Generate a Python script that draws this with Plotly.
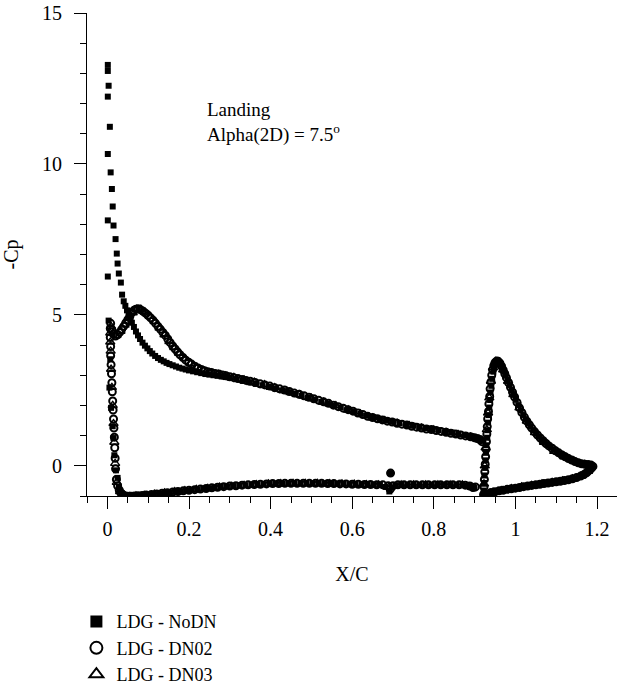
import plotly.graph_objects as go

# ---------------- data ----------------
# LDG - NoDN (filled squares)
nodn_main_upper_x = [0.025,0.021,0.017,0.015,0.013,0.009,0.005,0.007,0.003,0.001,
    0.001,0.001,0.001,0.001,0.001,0.003,0.006,0.008,0.011,0.013,
    0.015,0.020,0.023,0.025,0.028,0.033,0.036,0.040,0.044,0.048,
    0.052,0.056,0.060,0.065,0.070,0.075,0.080,0.086,0.092,0.098,
    0.104,0.110,0.117,0.124,0.131,0.138,0.145,0.152,0.160,0.168,
    0.176,0.184,0.192,0.200,0.210,0.220,0.230,0.240,0.250,0.260,
    0.270,0.280,0.290,0.300,0.316,0.332,0.348,0.364,0.380,0.396,
    0.412,0.428,0.444,0.460,0.476,0.492,0.508,0.524,0.540,0.556,
    0.572,0.588,0.604,0.620,0.636,0.652,0.668,0.684,0.700,0.716,
    0.732,0.748,0.764,0.780,0.796,0.812,0.828,0.844,0.860,0.876,
    0.892,0.904,0.912,0.918]
nodn_main_upper_cp = [-0.40,-0.15,0.35,0.92,1.31,1.92,2.59,3.53,4.81,6.27,
    8.13,10.33,12.23,13.08,13.28,12.59,11.23,9.72,9.17,8.59,
    7.96,7.51,7.03,6.70,6.37,6.07,5.67,5.45,5.30,5.15,
    5.00,4.87,4.74,4.60,4.45,4.32,4.20,4.08,3.98,3.89,
    3.80,3.72,3.64,3.57,3.51,3.46,3.41,3.37,3.33,3.29,
    3.25,3.22,3.19,3.16,3.13,3.10,3.07,3.04,3.02,3.00,
    2.98,2.96,2.94,2.92,2.87,2.82,2.77,2.72,2.67,2.61,
    2.56,2.50,2.44,2.38,2.32,2.25,2.19,2.12,2.06,1.99,
    1.93,1.86,1.79,1.72,1.66,1.60,1.55,1.50,1.46,1.41,
    1.37,1.33,1.29,1.25,1.22,1.18,1.14,1.10,1.06,1.02,
    0.98,0.94,0.90,0.84]
nodn_main_lower_x = [0.028,0.031,0.035,0.040,0.047,0.054,0.062,0.070,0.080,0.090,
    0.101,0.114,0.127,0.140,0.153,0.166,0.180,0.193,0.207,0.221,
    0.235,0.249,0.263,0.278,0.293,0.308,0.323,0.338,0.353,0.368,
    0.383,0.398,0.413,0.428,0.443,0.458,0.473,0.488,0.503,0.518,
    0.533,0.548,0.563,0.578,0.593,0.608,0.623,0.638,0.653,0.668,
    0.682,0.691,0.694,0.697,0.706,0.720,0.735,0.750,0.765,0.780,
    0.795,0.810,0.825,0.840,0.855,0.870,0.883,0.892,0.899]
nodn_main_lower_cp = [-0.72,-0.84,-0.92,-0.97,-1.00,-1.01,-1.01,-1.00,-0.99,-0.98,
    -0.96,-0.94,-0.92,-0.90,-0.88,-0.86,-0.84,-0.82,-0.80,-0.78,
    -0.76,-0.74,-0.72,-0.70,-0.68,-0.67,-0.65,-0.64,-0.63,-0.62,
    -0.61,-0.60,-0.59,-0.59,-0.58,-0.58,-0.58,-0.58,-0.58,-0.58,
    -0.59,-0.59,-0.60,-0.60,-0.61,-0.61,-0.62,-0.62,-0.63,-0.63,
    -0.70,-0.85,-0.24,-0.72,-0.64,-0.63,-0.63,-0.63,-0.63,-0.63,
    -0.63,-0.63,-0.63,-0.63,-0.63,-0.64,-0.66,-0.70,-0.74]
nodn_flap_upper_x = [0.922,0.923,0.924,0.926,0.927,0.928,0.929,0.931,0.932,0.933,
    0.935,0.936,0.938,0.939,0.941,0.943,0.946,0.948,0.952,0.956,
    0.960,0.964,0.968,0.972,0.976,0.981,0.986,0.991,0.996,1.001,
    1.007,1.013,1.019,1.025,1.031,1.037,1.044,1.051,1.058,1.065,
    1.072,1.079,1.086,1.094,1.102,1.110,1.118,1.126,1.134,1.142,
    1.150,1.158,1.166,1.174,1.182,1.188]
nodn_flap_upper_cp = [-0.82,-0.57,-0.32,-0.07,0.18,0.43,0.68,0.93,1.18,1.43,
    1.68,1.93,2.18,2.43,2.65,2.88,3.12,3.28,3.42,3.47,
    3.44,3.36,3.25,3.12,2.99,2.83,2.67,2.51,2.35,2.19,
    2.01,1.84,1.68,1.54,1.42,1.30,1.18,1.06,0.96,0.86,
    0.77,0.69,0.62,0.54,0.46,0.40,0.34,0.28,0.22,0.17,
    0.13,0.09,0.06,0.04,0.03,0.00]
nodn_flap_lower_x = [0.923,0.929,0.936,0.945,0.955,0.965,0.975,0.985,0.995,1.005,
    1.015,1.025,1.035,1.045,1.055,1.065,1.075,1.085,1.095,1.105,
    1.115,1.125,1.135,1.145,1.155,1.164,1.172,1.178,1.184,1.189]
nodn_flap_lower_cp = [-0.98,-0.96,-0.90,-0.87,-0.85,-0.82,-0.80,-0.77,-0.75,-0.73,
    -0.70,-0.68,-0.66,-0.64,-0.62,-0.60,-0.58,-0.56,-0.54,-0.52,
    -0.50,-0.48,-0.45,-0.41,-0.37,-0.32,-0.26,-0.19,-0.12,-0.05]

# LDG - DN02 (open circles)
dn02_main_upper_x = [0.020,0.019,0.018,0.017,0.016,0.015,0.014,0.013,0.012,0.011,
    0.010,0.009,0.008,0.008,0.007,0.007,0.008,0.011,0.015,0.020,
    0.025,0.030,0.035,0.040,0.045,0.050,0.055,0.060,0.065,0.070,
    0.075,0.080,0.085,0.090,0.095,0.100,0.106,0.112,0.118,0.124,
    0.130,0.136,0.142,0.148,0.154,0.160,0.166,0.172,0.178,0.185,
    0.192,0.199,0.206,0.214,0.222,0.230,0.238,0.246,0.255,0.264,
    0.273,0.282,0.291,0.300,0.310,0.320,0.330,0.340,0.350,0.362,
    0.374,0.386,0.398,0.410,0.422,0.434,0.446,0.458,0.470,0.482,
    0.494,0.506,0.518,0.530,0.542,0.554,0.566,0.578,0.590,0.602,
    0.614,0.626,0.638,0.650,0.662,0.674,0.686,0.698,0.710,0.722,
    0.734,0.746,0.758,0.770,0.782,0.794,0.806,0.818,0.830,0.842,
    0.854,0.866,0.878,0.890,0.900,0.908,0.914,0.918]
dn02_main_upper_cp = [-0.10,0.25,0.60,0.95,1.25,1.55,1.85,2.15,2.45,2.75,
    3.05,3.35,3.65,3.95,4.25,4.55,4.72,4.50,4.36,4.30,
    4.34,4.42,4.52,4.62,4.73,4.84,4.95,5.08,5.15,5.19,
    5.20,5.18,5.14,5.09,5.04,4.98,4.90,4.82,4.72,4.62,
    4.52,4.42,4.32,4.20,4.08,3.97,3.87,3.77,3.68,3.59,
    3.50,3.43,3.37,3.30,3.24,3.19,3.15,3.12,3.09,3.06,
    3.04,3.01,2.98,2.95,2.92,2.89,2.86,2.83,2.80,2.76,
    2.72,2.68,2.64,2.59,2.55,2.51,2.46,2.41,2.37,2.32,
    2.27,2.22,2.17,2.12,2.07,2.01,1.96,1.91,1.86,1.81,
    1.75,1.70,1.64,1.60,1.56,1.52,1.48,1.45,1.41,1.38,
    1.35,1.31,1.28,1.25,1.22,1.20,1.17,1.14,1.11,1.08,
    1.05,1.02,0.99,0.96,0.93,0.90,0.86,0.80]
dn02_main_lower_x = [0.022,0.025,0.029,0.033,0.038,0.044,0.050,0.058,0.066,0.075,
    0.085,0.095,0.108,0.121,0.134,0.147,0.160,0.173,0.186,0.200,
    0.214,0.228,0.242,0.256,0.270,0.285,0.300,0.315,0.330,0.345,
    0.360,0.375,0.390,0.405,0.420,0.435,0.450,0.465,0.480,0.495,
    0.510,0.525,0.540,0.555,0.570,0.585,0.600,0.615,0.630,0.645,
    0.660,0.675,0.688,0.693,0.694,0.700,0.712,0.727,0.742,0.757,
    0.772,0.787,0.802,0.817,0.832,0.847,0.862,0.877,0.888,0.896,
    0.902]
dn02_main_lower_cp = [-0.45,-0.66,-0.80,-0.90,-0.96,-1.00,-1.01,-1.01,-1.00,-0.99,
    -0.98,-0.97,-0.95,-0.93,-0.91,-0.89,-0.87,-0.85,-0.83,-0.81,
    -0.79,-0.77,-0.75,-0.73,-0.71,-0.69,-0.67,-0.66,-0.64,-0.63,
    -0.62,-0.61,-0.60,-0.59,-0.59,-0.58,-0.58,-0.58,-0.58,-0.58,
    -0.58,-0.58,-0.59,-0.59,-0.60,-0.60,-0.61,-0.61,-0.62,-0.62,
    -0.63,-0.63,-0.66,-0.78,-0.24,-0.66,-0.63,-0.63,-0.63,-0.63,
    -0.63,-0.63,-0.63,-0.63,-0.63,-0.63,-0.63,-0.64,-0.67,-0.72,
    -0.70]
dn02_flap_upper_x = [0.922,0.923,0.924,0.925,0.926,0.927,0.928,0.929,0.930,0.931,
    0.932,0.934,0.935,0.937,0.938,0.940,0.942,0.944,0.947,0.950,
    0.954,0.958,0.962,0.966,0.970,0.974,0.978,0.983,0.988,0.993,
    0.998,1.004,1.010,1.016,1.022,1.028,1.034,1.040,1.047,1.054,
    1.061,1.068,1.075,1.082,1.090,1.098,1.106,1.114,1.122,1.130,
    1.138,1.146,1.154,1.162,1.170,1.178,1.185,1.190]
dn02_flap_upper_cp = [-0.95,-0.70,-0.45,-0.20,0.05,0.30,0.55,0.80,1.05,1.30,
    1.55,1.80,2.05,2.30,2.55,2.78,3.00,3.18,3.32,3.42,
    3.47,3.46,3.40,3.30,3.18,3.05,2.92,2.76,2.60,2.44,
    2.28,2.10,1.92,1.76,1.61,1.48,1.36,1.25,1.13,1.02,
    0.92,0.83,0.74,0.66,0.58,0.50,0.43,0.36,0.30,0.24,
    0.19,0.14,0.10,0.07,0.05,0.04,0.03,-0.02]
dn02_flap_lower_x = [0.926,0.932,0.940,0.950,0.960,0.970,0.980,0.990,1.000,1.010,
    1.020,1.030,1.040,1.050,1.060,1.070,1.080,1.090,1.100,1.110,
    1.120,1.130,1.140,1.150,1.160,1.168,1.175,1.181,1.186]
dn02_flap_lower_cp = [-1.00,-0.93,-0.88,-0.86,-0.83,-0.81,-0.78,-0.76,-0.74,-0.72,
    -0.69,-0.67,-0.65,-0.63,-0.61,-0.59,-0.57,-0.55,-0.53,-0.51,
    -0.49,-0.46,-0.43,-0.39,-0.34,-0.29,-0.22,-0.15,-0.08]

# LDG - DN03 (open triangles)
dn03_main_upper_x = [0.019,0.017,0.015,0.013,0.011,0.009,0.008,0.007,0.007,0.009,
    0.014,0.022,0.032,0.042,0.052,0.062,0.072,0.082,0.092,0.104,
    0.116,0.128,0.140,0.152,0.164,0.176,0.190,0.204,0.220,0.236,
    0.254,0.272,0.290,0.310,0.335,0.360,0.385,0.410,0.440,0.470,
    0.500,0.530,0.560,0.590,0.620,0.650,0.680,0.710,0.740,0.770,
    0.800,0.830,0.860,0.890,0.912]
dn03_main_upper_cp = [0.08,0.78,1.40,2.00,2.60,3.20,3.80,4.10,4.40,4.62,
    4.40,4.32,4.46,4.66,4.88,5.07,5.18,5.19,5.10,4.95,
    4.78,4.56,4.34,4.12,3.92,3.73,3.55,3.39,3.25,3.15,
    3.08,3.03,2.98,2.93,2.85,2.77,2.69,2.59,2.47,2.36,
    2.24,2.11,1.99,1.85,1.72,1.59,1.50,1.41,1.33,1.25,
    1.19,1.11,1.03,0.95,0.86]
dn03_main_lower_x = [0.023,0.031,0.041,0.055,0.070,0.090,0.115,0.140,0.165,0.190,
    0.218,0.246,0.275,0.305,0.335,0.365,0.395,0.425,0.455,0.485,
    0.515,0.545,0.575,0.605,0.635,0.665,0.690,0.720,0.750,0.780,
    0.810,0.840,0.870,0.893]
dn03_main_lower_cp = [-0.55,-0.85,-0.98,-1.01,-1.00,-0.98,-0.94,-0.90,-0.86,-0.82,
    -0.78,-0.75,-0.71,-0.68,-0.65,-0.62,-0.60,-0.59,-0.58,-0.58,
    -0.58,-0.59,-0.60,-0.61,-0.62,-0.63,-0.70,-0.63,-0.63,-0.63,
    -0.63,-0.63,-0.63,-0.70]
dn03_flap_upper_x = [0.923,0.925,0.927,0.930,0.933,0.936,0.940,0.945,0.952,0.960,
    0.970,0.982,0.995,1.010,1.028,1.048,1.070,1.095,1.120,1.145,
    1.170,1.187]
dn03_flap_upper_cp = [-0.60,0.00,0.60,1.20,1.75,2.25,2.80,3.25,3.46,3.42,
    3.18,2.80,2.36,1.92,1.48,1.10,0.78,0.48,0.30,0.15,
    0.05,0.00]
dn03_flap_lower_x = [0.928,0.945,0.965,0.990,1.015,1.040,1.065,1.090,1.115,1.140,1.160,1.178]
dn03_flap_lower_cp = [-0.97,-0.87,-0.82,-0.76,-0.70,-0.65,-0.60,-0.55,-0.50,-0.43,-0.34,-0.18]

series_names = ["LDG - NoDN", "LDG - DN02", "LDG - DN03"]
x_ticks = [0, 0.2, 0.4, 0.6, 0.8, 1, 1.2]
y_ticks = [0, 5, 10, 15]

FONT = "Liberation Serif"

nodn_x = nodn_main_upper_x + nodn_main_lower_x + nodn_flap_upper_x + nodn_flap_lower_x
nodn_cp = nodn_main_upper_cp + nodn_main_lower_cp + nodn_flap_upper_cp + nodn_flap_lower_cp
dn02_x = dn02_main_upper_x + dn02_main_lower_x + dn02_flap_upper_x + dn02_flap_lower_x
dn02_cp = dn02_main_upper_cp + dn02_main_lower_cp + dn02_flap_upper_cp + dn02_flap_lower_cp
dn03_x = dn03_main_upper_x + dn03_main_lower_x + dn03_flap_upper_x + dn03_flap_lower_x
dn03_cp = dn03_main_upper_cp + dn03_main_lower_cp + dn03_flap_upper_cp + dn03_flap_lower_cp

fig = go.Figure()
fig.add_trace(go.Scatter(x=nodn_x, y=nodn_cp, mode="markers", name=series_names[0],
                         marker=dict(symbol="square", size=6, color="black", line=dict(width=0))))
fig.add_trace(go.Scatter(x=dn02_x, y=dn02_cp, mode="markers", name=series_names[1],
                         marker=dict(symbol="circle-open", size=7, color="black", line=dict(width=2))))
fig.add_trace(go.Scatter(x=dn03_x, y=dn03_cp, mode="markers", name=series_names[2],
                         marker=dict(symbol="triangle-up-open", size=8, color="black", line=dict(width=1.4))))

fig.add_annotation(x=0.240, y=12.23, xref="x", yref="y", xanchor="left", yanchor="top",
                   align="left", showarrow=False,
                   text="Landing<br>Alpha(2D) = 7.5<sup>o</sup>",
                   font=dict(family=FONT, size=19, color="black"))

axis_common = dict(showline=True, linecolor="black", linewidth=1.2, ticks="outside",
                   ticklen=12, tickwidth=1.2, tickcolor="black", showgrid=False,
                   zeroline=False, tickfont=dict(family=FONT, size=20, color="black"))

fig.update_xaxes(range=[-0.05, 1.249], tickvals=x_ticks, ticktext=[str(v) for v in x_ticks],
                 ticklabelstandoff=3,
                 minor=dict(dtick=0.05, tick0=0, ticklen=6, tickwidth=1.2, tickcolor="black",
                            ticks="outside", showgrid=False),
                 title=dict(text="X/C", font=dict(family=FONT, size=20, color="black"), standoff=27),
                 **axis_common)
fig.update_yaxes(range=[-1, 15], tickvals=y_ticks, ticktext=[str(v) for v in y_ticks],
                 ticklabelstandoff=8,
                 minor=dict(dtick=1, tick0=0, ticklen=6, tickwidth=1.2, tickcolor="black",
                            ticks="outside", showgrid=False),
                 title=dict(text="-Cp", font=dict(family=FONT, size=20, color="black"), standoff=18),
                 **axis_common)

fig.update_layout(
    width=617, height=684,
    margin=dict(l=87, r=0, t=13, b=188, autoexpand=False),
    paper_bgcolor="white", plot_bgcolor="white",
    font=dict(family=FONT, size=20, color="black"),
    showlegend=True,
    legend=dict(x=-0.02, y=-0.222, xanchor="left", yanchor="top",
                itemsizing="constant",
                font=dict(family=FONT, size=18, color="black"),
                bgcolor="rgba(0,0,0,0)"),
)

fig.write_html("out.html")
